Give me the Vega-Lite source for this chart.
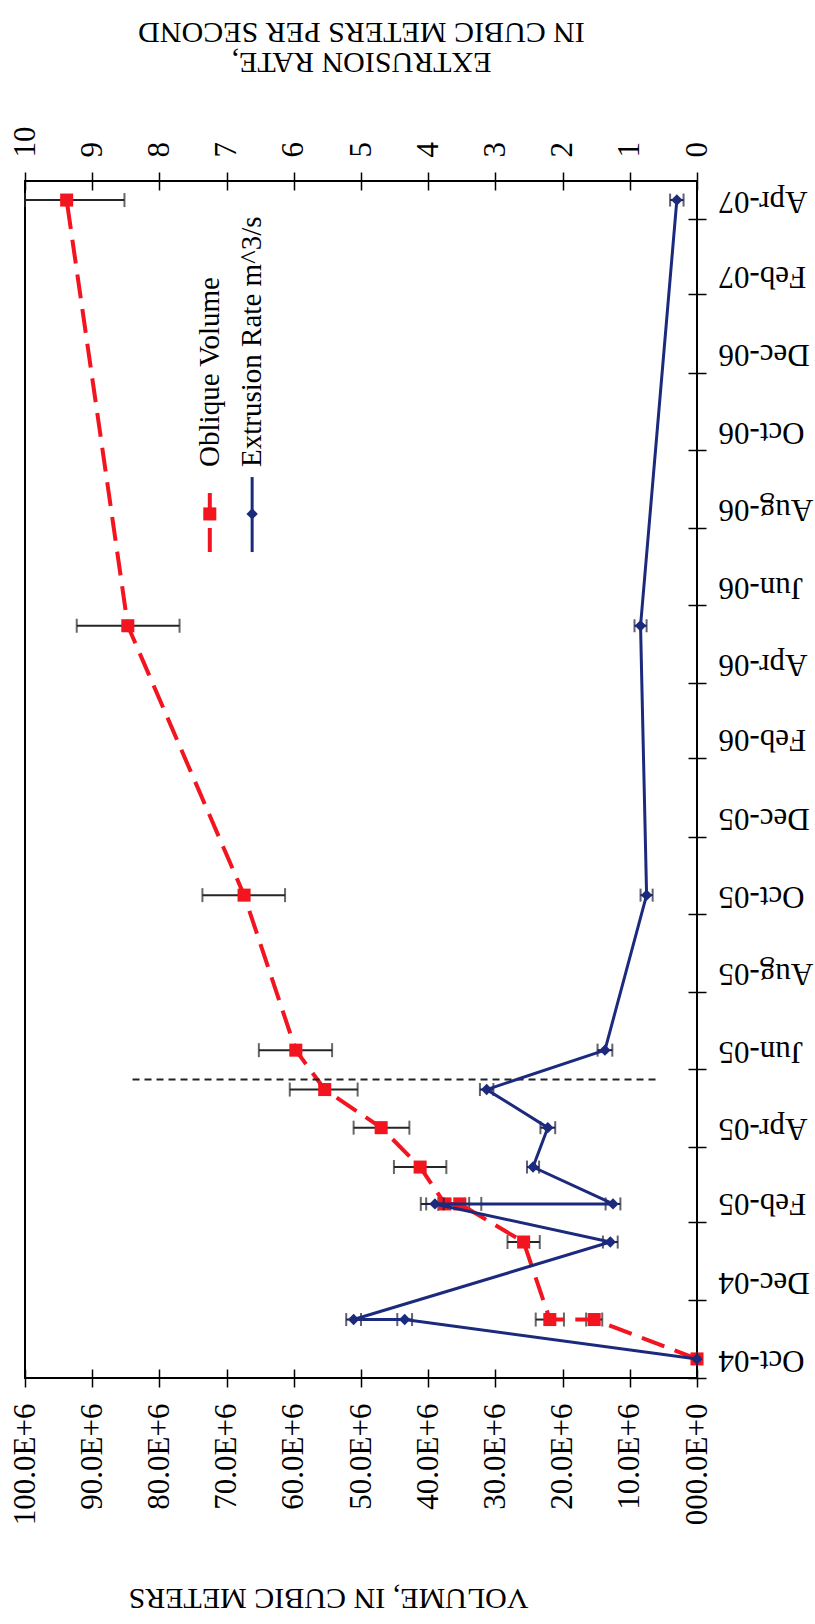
{
  "$schema": "https://vega.github.io/schema/vega-lite/v6.json",
  "width": 672,
  "height": 1197,
  "autosize": {"type": "none"},
  "padding": {"left": 25, "top": 181, "right": 118, "bottom": 246},
  "background": "white",
  "config": {
    "font": "Liberation Serif",
    "view": {"stroke": "black", "strokeWidth": 2},
    "axis": {
      "labelColor": "black",
      "tickColor": "black",
      "titleColor": "black",
      "labelFont": "Liberation Serif",
      "titleFont": "Liberation Serif",
      "titleFontWeight": "normal",
      "grid": false,
      "tickWidth": 1.5,
      "labelFlush": false,
      "labelOverlap": false
    }
  },
  "datasets": {
    "obs": [
      {"date": "2004-10-16", "order": 1, "vol": 0, "vol_lo": 0, "vol_hi": 0, "rate": 0, "rate_lo": 0, "rate_hi": 0},
      {"date": "2004-11-16", "order": 2, "vol": 15300000, "vol_lo": 14100000, "vol_hi": 16500000, "rate": 4.35, "rate_lo": 4.24, "rate_hi": 4.46},
      {"date": "2004-11-16", "order": 3, "vol": 21900000, "vol_lo": 19800000, "vol_hi": 24000000, "rate": 5.11, "rate_lo": 5.0, "rate_hi": 5.22},
      {"date": "2005-01-16", "order": 4, "vol": 25800000, "vol_lo": 23400000, "vol_hi": 28200000, "rate": 1.29, "rate_lo": 1.18, "rate_hi": 1.4},
      {"date": "2005-02-15", "order": 5, "vol": 35300000, "vol_lo": 32100000, "vol_hi": 38500000, "rate": 3.9, "rate_lo": 3.77, "rate_hi": 4.03},
      {"date": "2005-02-15", "order": 6, "vol": 37500000, "vol_lo": 33900000, "vol_hi": 41100000, "rate": 1.25, "rate_lo": 1.14, "rate_hi": 1.36},
      {"date": "2005-03-16", "order": 7, "vol": 41200000, "vol_lo": 37300000, "vol_hi": 45100000, "rate": 2.44, "rate_lo": 2.35, "rate_hi": 2.53},
      {"date": "2005-04-16", "order": 8, "vol": 47000000, "vol_lo": 42800000, "vol_hi": 51100000, "rate": 2.22, "rate_lo": 2.11, "rate_hi": 2.33},
      {"date": "2005-05-16", "order": 9, "vol": 55400000, "vol_lo": 50500000, "vol_hi": 60600000, "rate": 3.13, "rate_lo": 3.03, "rate_hi": 3.23},
      {"date": "2005-06-16", "order": 10, "vol": 59700000, "vol_lo": 54300000, "vol_hi": 65200000, "rate": 1.37, "rate_lo": 1.26, "rate_hi": 1.48},
      {"date": "2005-10-16", "order": 11, "vol": 67400000, "vol_lo": 61300000, "vol_hi": 73600000, "rate": 0.75, "rate_lo": 0.66, "rate_hi": 0.84},
      {"date": "2006-05-16", "order": 12, "vol": 84700000, "vol_lo": 77000000, "vol_hi": 92300000, "rate": 0.84, "rate_lo": 0.75, "rate_hi": 0.93},
      {"date": "2007-04-16", "order": 13, "vol": 93800000, "vol_lo": 85200000, "vol_hi": 100000000, "rate": 0.3, "rate_lo": 0.2, "rate_hi": 0.4}
    ],
    "marker": [
      {"date": "2005-05-24", "from": 84000000, "to": 6000000}
    ],
    "key": [
      {"series": "Oblique Volume", "start": "2006-07-13", "end": "2006-09-03", "mid": "2006-08-12", "textAt": "2006-09-18", "vol": 72500000, "rate": 7.25},
      {"series": "Extrusion Rate m^3/s", "start": "2006-07-13", "end": "2006-09-10", "mid": "2006-08-12", "textAt": "2006-09-18", "vol": 66200000, "rate": 6.62}
    ]
  },
  "layer": [
    {
      "data": {"name": "obs"},
      "mark": {"type": "rule", "color": "#262626", "strokeWidth": 2},
      "encoding": {
        "y": {
          "field": "date", "type": "temporal",
          "scale": {"type": "utc", "domain": [{"year": 2004, "month": 10, "date": 1, "utc": true}, {"year": 2007, "month": 5, "date": 1, "utc": true}]},
          "axis": {
            "orient": "right",
            "title": null,
            "values": [
              {"year": 2004, "month": 10, "date": 1, "utc": true},
              {"year": 2004, "month": 12, "date": 1, "utc": true},
              {"year": 2005, "month": 2, "date": 1, "utc": true},
              {"year": 2005, "month": 4, "date": 1, "utc": true},
              {"year": 2005, "month": 6, "date": 1, "utc": true},
              {"year": 2005, "month": 8, "date": 1, "utc": true},
              {"year": 2005, "month": 10, "date": 1, "utc": true},
              {"year": 2005, "month": 12, "date": 1, "utc": true},
              {"year": 2006, "month": 2, "date": 1, "utc": true},
              {"year": 2006, "month": 4, "date": 1, "utc": true},
              {"year": 2006, "month": 6, "date": 1, "utc": true},
              {"year": 2006, "month": 8, "date": 1, "utc": true},
              {"year": 2006, "month": 10, "date": 1, "utc": true},
              {"year": 2006, "month": 12, "date": 1, "utc": true},
              {"year": 2007, "month": 2, "date": 1, "utc": true},
              {"year": 2007, "month": 4, "date": 1, "utc": true}
            ],
            "labelExpr": "utcFormat(datum.value, '%b-%y')",
            "labelFont": "Liberation Serif",
            "labelAngle": 180,
            "labelAlign": "right",
            "labelBaseline": "middle",
            "labelOffset": -19,
            "labelPadding": 12,
            "labelFontSize": 31,
            "tickSize": 18,
            "offset": -9,
            "domain": false
          }
        },
        "x": {
          "field": "vol_lo", "type": "quantitative",
          "scale": {"domain": [0, 100000000], "reverse": true, "nice": false},
          "axis": {
            "orient": "bottom",
            "title": "VOLUME, IN CUBIC METERS",
            "values": [0, 10000000, 20000000, 30000000, 40000000, 50000000, 60000000, 70000000, 80000000, 90000000, 100000000],
            "labelExpr": "datum.value == 0 ? '000.0E+0' : format(datum.value / 1000000, '.1f') + 'E+6'",
            "labelFont": "Liberation Serif",
            "labelAngle": 270,
            "labelAlign": "right",
            "labelBaseline": "middle",
            "labelPadding": 16,
            "labelFontSize": 31,
            "tickSize": 18,
            "offset": -9,
            "domain": false,
            "titleFont": "Liberation Serif",
            "titleAngle": 180,
            "titleFontSize": 30,
            "titleAlign": "center",
            "titleBaseline": "middle",
            "titleX": 303,
            "titleY": 228
          }
        },
        "x2": {"field": "vol_hi"}
      }
    },
    {
      "data": {"name": "obs"},
      "mark": {"type": "tick", "orient": "vertical", "color": "#262626", "size": 14, "thickness": 2},
      "encoding": {
        "y": {"field": "date", "type": "temporal", "scale": {"type": "utc", "domain": [{"year": 2004, "month": 10, "date": 1, "utc": true}, {"year": 2007, "month": 5, "date": 1, "utc": true}]}, "axis": null},
        "x": {"field": "vol_lo", "type": "quantitative", "scale": {"domain": [0, 100000000], "reverse": true, "nice": false}, "axis": null}
      }
    },
    {
      "data": {"name": "obs"},
      "mark": {"type": "tick", "orient": "vertical", "color": "#262626", "size": 14, "thickness": 2},
      "encoding": {
        "y": {"field": "date", "type": "temporal", "scale": {"type": "utc", "domain": [{"year": 2004, "month": 10, "date": 1, "utc": true}, {"year": 2007, "month": 5, "date": 1, "utc": true}]}, "axis": null},
        "x": {"field": "vol_hi", "type": "quantitative", "scale": {"domain": [0, 100000000], "reverse": true, "nice": false}, "axis": null}
      }
    },
    {
      "data": {"name": "obs"},
      "mark": {"type": "line", "color": "#f2141e", "strokeWidth": 4, "strokeDash": [24, 11]},
      "encoding": {
        "y": {"field": "date", "type": "temporal", "scale": {"type": "utc", "domain": [{"year": 2004, "month": 10, "date": 1, "utc": true}, {"year": 2007, "month": 5, "date": 1, "utc": true}]}, "axis": null},
        "x": {"field": "vol", "type": "quantitative", "scale": {"domain": [0, 100000000], "reverse": true, "nice": false}, "axis": null},
        "order": {"field": "order", "type": "quantitative"}
      }
    },
    {
      "data": {"name": "obs"},
      "mark": {"type": "point", "shape": "square", "filled": true, "color": "#f2141e", "size": 170, "opacity": 1},
      "encoding": {
        "y": {"field": "date", "type": "temporal", "scale": {"type": "utc", "domain": [{"year": 2004, "month": 10, "date": 1, "utc": true}, {"year": 2007, "month": 5, "date": 1, "utc": true}]}, "axis": null},
        "x": {"field": "vol", "type": "quantitative", "scale": {"domain": [0, 100000000], "reverse": true, "nice": false}, "axis": null}
      }
    },
    {
      "data": {"name": "marker"},
      "mark": {"type": "rule", "color": "#222222", "strokeWidth": 2, "strokeDash": [7, 5]},
      "encoding": {
        "y": {"field": "date", "type": "temporal", "scale": {"type": "utc", "domain": [{"year": 2004, "month": 10, "date": 1, "utc": true}, {"year": 2007, "month": 5, "date": 1, "utc": true}]}, "axis": null},
        "x": {"field": "from", "type": "quantitative", "scale": {"domain": [0, 100000000], "reverse": true, "nice": false}, "axis": null},
        "x2": {"field": "to"}
      }
    },
    {
      "data": {"name": "key"},
      "transform": [{"filter": "datum.series == 'Oblique Volume'"}],
      "mark": {"type": "rule", "color": "#f2141e", "strokeWidth": 4, "strokeDash": [24, 11]},
      "encoding": {
        "y": {"field": "start", "type": "temporal", "scale": {"type": "utc", "domain": [{"year": 2004, "month": 10, "date": 1, "utc": true}, {"year": 2007, "month": 5, "date": 1, "utc": true}]}, "axis": null},
        "y2": {"field": "end"},
        "x": {"field": "vol", "type": "quantitative", "scale": {"domain": [0, 100000000], "reverse": true, "nice": false}, "axis": null}
      }
    },
    {
      "data": {"name": "key"},
      "transform": [{"filter": "datum.series == 'Oblique Volume'"}],
      "mark": {"type": "point", "shape": "square", "filled": true, "color": "#f2141e", "size": 170, "opacity": 1},
      "encoding": {
        "y": {"field": "mid", "type": "temporal", "scale": {"type": "utc", "domain": [{"year": 2004, "month": 10, "date": 1, "utc": true}, {"year": 2007, "month": 5, "date": 1, "utc": true}]}, "axis": null},
        "x": {"field": "vol", "type": "quantitative", "scale": {"domain": [0, 100000000], "reverse": true, "nice": false}, "axis": null}
      }
    },
    {
      "data": {"name": "key"},
      "mark": {"type": "text", "angle": 270, "align": "left", "baseline": "middle", "fontSize": 29, "font": "Liberation Serif", "color": "black"},
      "encoding": {
        "y": {"field": "textAt", "type": "temporal", "scale": {"type": "utc", "domain": [{"year": 2004, "month": 10, "date": 1, "utc": true}, {"year": 2007, "month": 5, "date": 1, "utc": true}]}, "axis": null},
        "x": {"field": "vol", "type": "quantitative", "scale": {"domain": [0, 100000000], "reverse": true, "nice": false}, "axis": null},
        "text": {"field": "series"}
      }
    },
    {
      "data": {"name": "obs"},
      "mark": {"type": "rule", "color": "#1c1c3c", "strokeWidth": 2},
      "encoding": {
        "y": {"field": "date", "type": "temporal", "scale": {"type": "utc", "domain": [{"year": 2004, "month": 10, "date": 1, "utc": true}, {"year": 2007, "month": 5, "date": 1, "utc": true}]}, "axis": null},
        "x": {
          "field": "rate_lo", "type": "quantitative",
          "scale": {"domain": [0, 10], "reverse": true, "nice": false},
          "axis": {
            "orient": "top",
            "title": ["EXTRUSION RATE,", "IN CUBIC METERS PER SECOND"],
            "values": [0, 1, 2, 3, 4, 5, 6, 7, 8, 9, 10],
            "labelExpr": "format(datum.value, 'd')",
            "labelFont": "Liberation Serif",
            "labelAngle": 270,
            "labelAlign": "left",
            "labelBaseline": "middle",
            "labelPadding": 15,
            "labelFontSize": 31,
            "tickSize": 18,
            "offset": -9,
            "domain": false,
            "titleFont": "Liberation Serif",
            "titleAngle": 180,
            "titleFontSize": 30,
            "titleLineHeight": 30,
            "titleAlign": "center",
            "titleBaseline": "middle",
            "titleX": 336,
            "titleY": -129
          }
        },
        "x2": {"field": "rate_hi"}
      }
    },
    {
      "data": {"name": "obs"},
      "mark": {"type": "tick", "orient": "vertical", "color": "#1c1c3c", "size": 13, "thickness": 2},
      "encoding": {
        "y": {"field": "date", "type": "temporal", "scale": {"type": "utc", "domain": [{"year": 2004, "month": 10, "date": 1, "utc": true}, {"year": 2007, "month": 5, "date": 1, "utc": true}]}, "axis": null},
        "x": {"field": "rate_lo", "type": "quantitative", "scale": {"domain": [0, 10], "reverse": true, "nice": false}, "axis": null}
      }
    },
    {
      "data": {"name": "obs"},
      "mark": {"type": "tick", "orient": "vertical", "color": "#1c1c3c", "size": 13, "thickness": 2},
      "encoding": {
        "y": {"field": "date", "type": "temporal", "scale": {"type": "utc", "domain": [{"year": 2004, "month": 10, "date": 1, "utc": true}, {"year": 2007, "month": 5, "date": 1, "utc": true}]}, "axis": null},
        "x": {"field": "rate_hi", "type": "quantitative", "scale": {"domain": [0, 10], "reverse": true, "nice": false}, "axis": null}
      }
    },
    {
      "data": {"name": "obs"},
      "mark": {"type": "line", "color": "#1b2a7c", "strokeWidth": 3},
      "encoding": {
        "y": {"field": "date", "type": "temporal", "scale": {"type": "utc", "domain": [{"year": 2004, "month": 10, "date": 1, "utc": true}, {"year": 2007, "month": 5, "date": 1, "utc": true}]}, "axis": null},
        "x": {"field": "rate", "type": "quantitative", "scale": {"domain": [0, 10], "reverse": true, "nice": false}, "axis": null},
        "order": {"field": "order", "type": "quantitative"}
      }
    },
    {
      "data": {"name": "obs"},
      "mark": {"type": "point", "shape": "diamond", "filled": true, "color": "#1b2a7c", "size": 130, "opacity": 1},
      "encoding": {
        "y": {"field": "date", "type": "temporal", "scale": {"type": "utc", "domain": [{"year": 2004, "month": 10, "date": 1, "utc": true}, {"year": 2007, "month": 5, "date": 1, "utc": true}]}, "axis": null},
        "x": {"field": "rate", "type": "quantitative", "scale": {"domain": [0, 10], "reverse": true, "nice": false}, "axis": null}
      }
    },
    {
      "data": {"name": "key"},
      "transform": [{"filter": "datum.series == 'Extrusion Rate m^3/s'"}],
      "mark": {"type": "rule", "color": "#1b2a7c", "strokeWidth": 3},
      "encoding": {
        "y": {"field": "start", "type": "temporal", "scale": {"type": "utc", "domain": [{"year": 2004, "month": 10, "date": 1, "utc": true}, {"year": 2007, "month": 5, "date": 1, "utc": true}]}, "axis": null},
        "y2": {"field": "end"},
        "x": {"field": "rate", "type": "quantitative", "scale": {"domain": [0, 10], "reverse": true, "nice": false}, "axis": null}
      }
    },
    {
      "data": {"name": "key"},
      "transform": [{"filter": "datum.series == 'Extrusion Rate m^3/s'"}],
      "mark": {"type": "point", "shape": "diamond", "filled": true, "color": "#1b2a7c", "size": 130, "opacity": 1},
      "encoding": {
        "y": {"field": "mid", "type": "temporal", "scale": {"type": "utc", "domain": [{"year": 2004, "month": 10, "date": 1, "utc": true}, {"year": 2007, "month": 5, "date": 1, "utc": true}]}, "axis": null},
        "x": {"field": "rate", "type": "quantitative", "scale": {"domain": [0, 10], "reverse": true, "nice": false}, "axis": null}
      }
    }
  ],
  "resolve": {
    "scale": {"x": "independent", "y": "independent"},
    "axis": {"x": "independent", "y": "independent"}
  }
}
